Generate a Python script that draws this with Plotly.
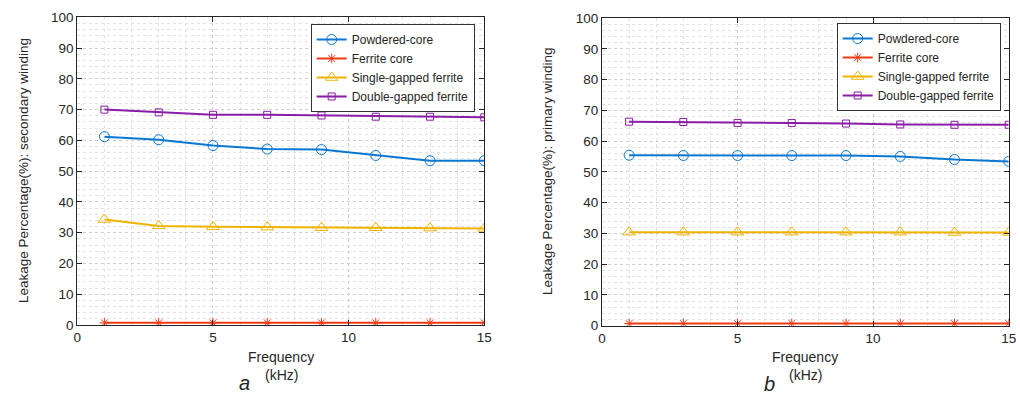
import plotly.graph_objects as go

freq = [1, 3, 5, 7, 9, 11, 13, 15]

names = ["Powdered-core", "Ferrite core", "Single-gapped ferrite", "Double-gapped ferrite"]

# Panel a: secondary winding
sec_powdered = [61.2, 60.2, 58.3, 57.2, 57.0, 55.1, 53.4, 53.4]
sec_ferrite = [0.7, 0.7, 0.7, 0.7, 0.7, 0.7, 0.7, 0.7]
sec_single = [34.3, 32.2, 31.9, 31.8, 31.6, 31.6, 31.5, 31.4]
sec_double = [70.0, 69.1, 68.3, 68.3, 68.1, 67.7, 67.7, 67.5]

# Panel b: primary winding
pri_powdered = [55.4, 55.3, 55.3, 55.3, 55.3, 55.0, 54.0, 53.4]
pri_ferrite = [0.7, 0.7, 0.7, 0.7, 0.7, 0.7, 0.7, 0.7]
pri_single = [30.4, 30.4, 30.4, 30.4, 30.4, 30.4, 30.3, 30.3]
pri_double = [66.3, 66.2, 65.9, 65.9, 65.7, 65.4, 65.3, 65.3]

x_ticks = [0, 5, 10, 15]
y_ticks = [0, 10, 20, 30, 40, 50, 60, 70, 80, 90, 100]

colors = ["#0A78D2", "#F03A17", "#F0B400", "#8A1DA8"]
symbols = ["circle-open", "asterisk-open", "triangle-up-open", "square-open"]
msizes = [10, 8, 11, 7]

W, H = 1020, 394
FONT = "Liberation Sans, Arial, sans-serif"

fig = go.Figure()

panels = [
    ("x", "y", [sec_powdered, sec_ferrite, sec_single, sec_double], "legend"),
    ("x2", "y2", [pri_powdered, pri_ferrite, pri_single, pri_double], "legend2"),
]
for xa, ya, series, leg in panels:
    for i, vals in enumerate(series):
        fig.add_trace(go.Scatter(
            x=freq, y=vals, name=names[i], mode="lines+markers",
            xaxis=xa, yaxis=ya, legend=leg,
            line=dict(color=colors[i], width=2),
            marker=dict(symbol=symbols[i], size=msizes[i], color=colors[i],
                        line=dict(color=colors[i], width=1)),
            showlegend=True,
        ))

def px_x(p):
    return p / W

def px_y(p):
    return 1 - p / H

axis_common = dict(
    showline=True, mirror="ticks", linecolor="#262626", linewidth=1,
    ticks="inside", ticklen=5, tickcolor="#262626", tickwidth=1,
    showgrid=True, gridcolor="#cfcfcf", gridwidth=1, griddash="dot",
    zeroline=False, automargin=False,
    tickfont=dict(family=FONT, size=13.5, color="#262626"),
)
minor_x = dict(dtick=1, showgrid=True, gridcolor="#e2e2e2", griddash="dot", ticks="")
minor_y = dict(dtick=2, showgrid=True, gridcolor="#e2e2e2", griddash="dot", ticks="")

legend_common = dict(
    xanchor="left", yanchor="top",
    bgcolor="white", bordercolor="#333333", borderwidth=1,
    font=dict(family=FONT, size=12, color="#262626"),
    tracegroupgap=0, itemwidth=30,
)

fig.update_layout(
    width=W, height=H,
    margin=dict(l=0, r=0, t=0, b=0, autoexpand=False),
    paper_bgcolor="white", plot_bgcolor="white",
    font=dict(family=FONT, color="#262626"),
    xaxis=dict(domain=[px_x(77.3), px_x(484.3)], range=[0, 15], tickvals=x_ticks,
               minor=minor_x, anchor="y", **axis_common),
    yaxis=dict(domain=[px_y(325), px_y(17.3)], range=[0, 100], tickvals=y_ticks,
               minor=minor_y, anchor="x", **axis_common),
    xaxis2=dict(domain=[px_x(602), px_x(1008.7)], range=[0, 15], tickvals=x_ticks,
                minor=minor_x, anchor="y2", **axis_common),
    yaxis2=dict(domain=[px_y(325.7), px_y(18)], range=[0, 100], tickvals=y_ticks,
                minor=minor_y, anchor="x2", **axis_common),
    legend=dict(x=px_x(310.7), y=px_y(24), **legend_common),
    legend2=dict(x=px_x(836.7), y=px_y(23), **legend_common),
)

ann = [
    dict(text="Leakage Percentage(%): secondary winding", x=px_x(23), y=px_y(171), textangle=-90, size=13.5),
    dict(text="Leakage Percentage(%): primary winding", x=px_x(547), y=px_y(171), textangle=-90, size=13.5),
    dict(text="Frequency", x=px_x(281), y=px_y(357), textangle=0, size=14),
    dict(text="(kHz)", x=px_x(281), y=px_y(375), textangle=0, size=14),
    dict(text="Frequency", x=px_x(805), y=px_y(357), textangle=0, size=14),
    dict(text="(kHz)", x=px_x(805), y=px_y(375), textangle=0, size=14),
    dict(text="<i>a</i>", x=px_x(244), y=px_y(383), textangle=0, size=20),
    dict(text="<i>b</i>", x=px_x(769), y=px_y(384), textangle=0, size=20),
]
for a in ann:
    fig.add_annotation(text=a["text"], x=a["x"], y=a["y"], xref="paper", yref="paper",
                       xanchor="center", yanchor="middle", showarrow=False,
                       textangle=a["textangle"],
                       font=dict(family=FONT, size=a["size"], color="#262626"))

fig.write_html("out.html", config={"displayModeBar": False},
               post_script="document.body.style.margin='0';document.body.style.overflow='hidden';")
